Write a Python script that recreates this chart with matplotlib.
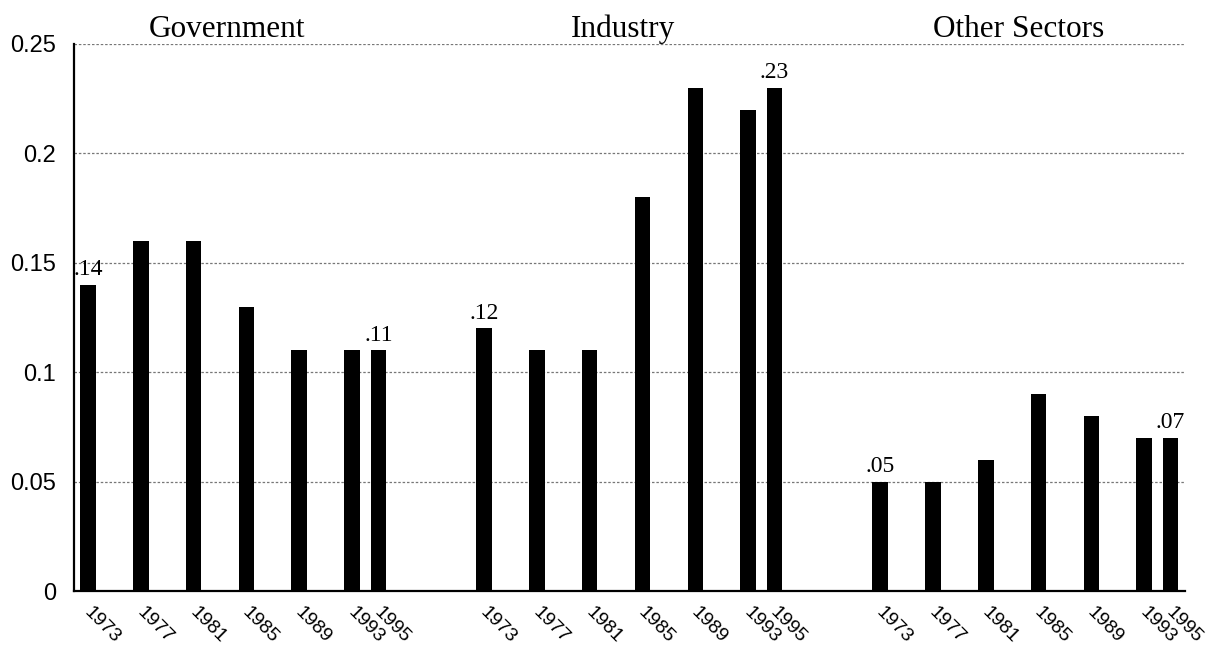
import matplotlib
matplotlib.use('Agg')
import matplotlib.pyplot as plt
import numpy as np

# data
groups = ['Government', 'Industry', 'Other Sectors']
years = [1973, 1977, 1981, 1985, 1989, 1993, 1995]
gov = [0.14, 0.16, 0.16, 0.13, 0.11, 0.11, 0.11]
industry = [0.12, 0.11, 0.11, 0.18, 0.23, 0.22, 0.23]
other = [0.05, 0.05, 0.06, 0.09, 0.08, 0.07, 0.07]
values = [gov, industry, other]
# which bars carry a value label (first and last of each group)
labelled = [0, 6]
yticks = [0, 0.05, 0.1, 0.15, 0.2, 0.25]
ytick_labels = ['0', '0.05', '0.1', '0.15', '0.2', '0.25']

fig = plt.figure(figsize=(12.08, 6.45), dpi=100)
ax = fig.add_axes([0.0613, 0.0837, 0.9197, 0.8481])

group_gap = 30  # years of x space per group (22 + gap of 8)
yrs = np.array(years) - years[0]

for g, name in enumerate(groups):
    xs = yrs + g * group_gap
    ax.bar(xs, values[g], width=1.18, color='black', zorder=3)
    for i in labelled:
        v = values[g][i]
        ax.annotate('.%02d' % round(v * 100), (xs[i], v), xytext=(0, 7),
                    textcoords='offset points', ha='center', va='baseline',
                    family='Liberation Serif', fontsize=17)
    ax.text(g * group_gap + 10.5, 1.012, name, transform=ax.get_xaxis_transform(),
            ha='center', va='baseline', family='Liberation Serif', fontsize=22.5)
    for x, yr in zip(xs, years):
        ax.text(x + 0.35, -0.024, str(yr), transform=ax.get_xaxis_transform(),
                rotation=-45, rotation_mode='anchor', ha='left', va='top',
                family='Liberation Sans', fontsize=14)

ax.set_xlim(-1.06, 83.1)
ax.set_ylim(0, 0.25)
ax.set_xticks([])
ax.set_yticks(yticks)
ax.set_yticklabels(ytick_labels, family='Liberation Sans', fontsize=17)
ax.tick_params(axis='y', length=0, pad=13)

ax.grid(axis='y', color='#777777', linestyle=(0, (2, 1.5)), linewidth=0.9, zorder=0)
for s in ['top', 'right']:
    ax.spines[s].set_visible(False)
ax.spines['left'].set_linewidth(1.6)
ax.spines['bottom'].set_linewidth(1.6)

fig.savefig('out.png', dpi=100)
